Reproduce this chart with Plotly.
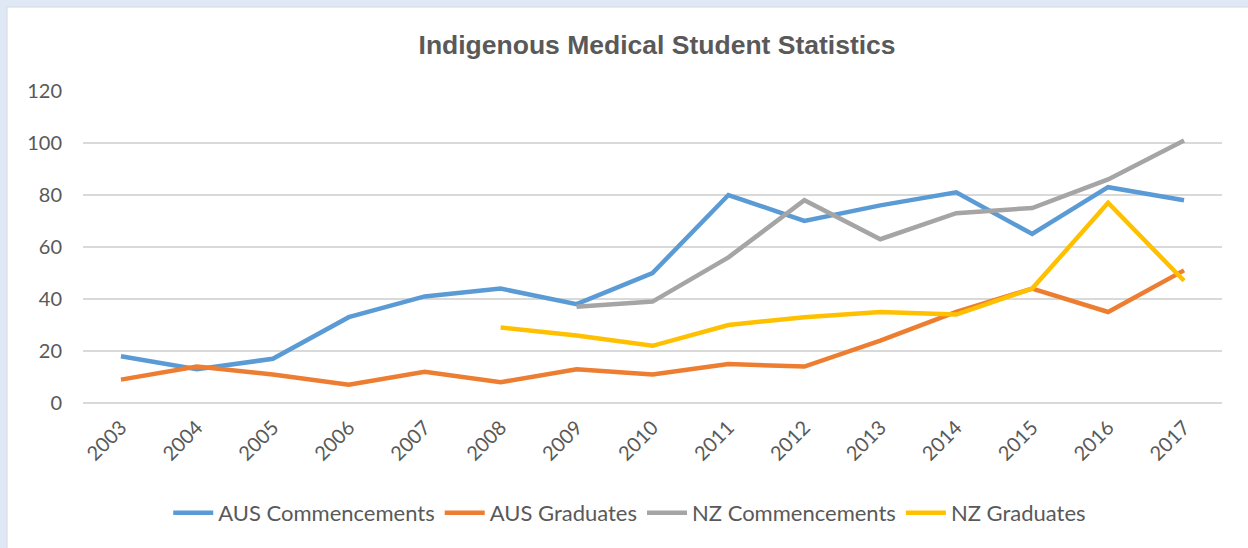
import plotly.graph_objects as go

years = ['2003', '2004', '2005', '2006', '2007', '2008', '2009', '2010',
         '2011', '2012', '2013', '2014', '2015', '2016', '2017']

aus_commencements = [18, 13, 17, 33, 41, 44, 38, 50, 80, 70, 76, 81, 65, 83, 78]
aus_graduates = [9, 14, 11, 7, 12, 8, 13, 11, 15, 14, 24, 35, 44, 35, 51]
nz_commencements = [None, None, None, None, None, None, 37, 39, 56, 78, 63, 73, 75, 86, 101]
nz_graduates = [None, None, None, None, None, 29, 26, 22, 30, 33, 35, 34, 44, 77, 47]

series = [
    ('AUS Commencements', aus_commencements, '#5B9BD5'),
    ('AUS Graduates', aus_graduates, '#ED7D31'),
    ('NZ Commencements', nz_commencements, '#A5A5A5'),
    ('NZ Graduates', nz_graduates, '#FFC000'),
]

fig = go.Figure()
for name, vals, col in series:
    fig.add_trace(go.Scatter(x=years, y=vals, name=name, mode='lines',
                             line=dict(color=col, width=4.5)))

# white chart panel over the light blue background
fig.add_shape(type='rect', xref='paper', yref='paper',
              x0=-0.0667, x1=1.1, y0=-0.6, y1=1.269,
              fillcolor='white', line=dict(color='#d9d9d9', width=1), layer='below')

fig.update_layout(
    width=1248, height=548,
    margin=dict(l=83, r=26, t=91, b=145),
    paper_bgcolor='#dee9f5',
    plot_bgcolor='white',
    title=dict(text='<b>Indigenous Medical Student Statistics</b>',
               x=0.504, xref='paper', y=(548 - 45) / 548, yanchor='middle',
               font=dict(family='Liberation Sans', size=26.5, color='#595959')),
    font=dict(family='Lato', size=20, color='#595959'),
    xaxis=dict(type='category', range=[-0.5, 14.5], tickangle=-45,
               showgrid=False, showline=False, ticks='', automargin=False,
               ticklabelstandoff=8,
               tickfont=dict(size=20, color='#595959')),
    yaxis=dict(range=[0, 120], dtick=20, gridcolor='#d9d9d9', gridwidth=1.5,
               zeroline=True, zerolinecolor='#d9d9d9', zerolinewidth=1.5,
               ticks='', ticklabelstandoff=20, automargin=False,
               tickfont=dict(size=20, color='#595959')),
    legend=dict(orientation='h', x=0.48, xanchor='center', y=-0.3526,
                yanchor='middle', font=dict(size=22, color='#595959'),
                bgcolor='rgba(0,0,0,0)', itemwidth=40, traceorder='normal'),
)

# the page's default body margin shifts the figure by 8px
fig.write_html("out.html", config={'displayModeBar': False},
               post_script="document.body.style.margin='0';")
